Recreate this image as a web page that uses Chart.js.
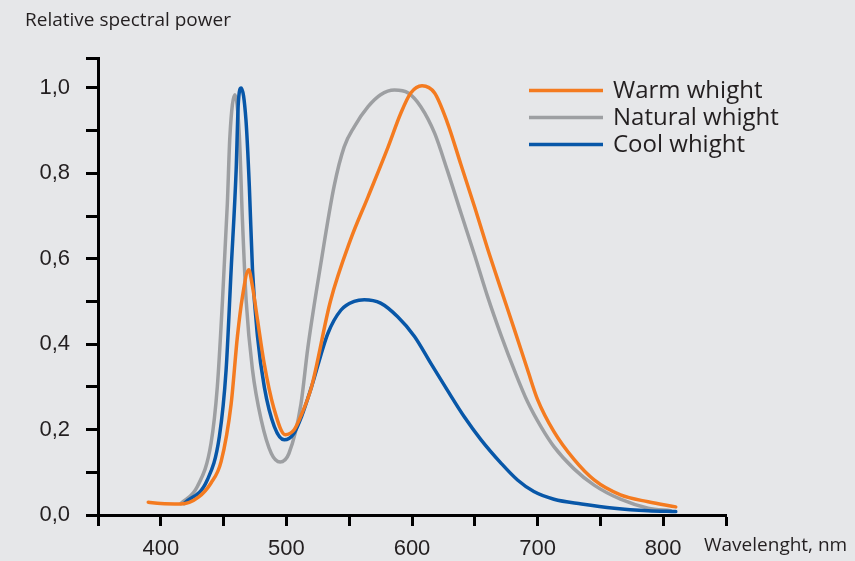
<!DOCTYPE html>
<html>
<head>
<meta charset="utf-8">
<script src="https://cdn.jsdelivr.net/npm/chart.js@4/dist/chart.umd.min.js"></script>
<style>
  html, body { margin: 0; padding: 0; background: #e6e7e9; }
  #wrap { width: 855px; height: 561px; }
</style>
</head>
<body>
<div id="wrap"><canvas id="c" width="855" height="561"></canvas></div>
<script>
// ---- Data ----
const seriesLabels = ['Warm whight', 'Natural whight', 'Cool whight'];
const seriesColors = ['#f47b20', '#9d9fa2', '#0857a8'];

const warmNm    = [390, 400, 416, 430, 440, 448, 456, 461, 465, 470, 473, 477, 482, 490, 499, 506, 512, 520, 535, 551, 565, 581, 591, 599, 608, 618, 628, 639, 650, 660, 671, 682, 692, 700, 713, 729, 745, 766, 788, 810];
const warmPower = [0.030, 0.027, 0.026, 0.042, 0.075, 0.125, 0.26, 0.418, 0.511, 0.574, 0.535, 0.457, 0.36, 0.25, 0.188, 0.199, 0.235, 0.30, 0.50, 0.644, 0.745, 0.862, 0.94, 0.988, 1.005, 0.988, 0.92, 0.82, 0.72, 0.625, 0.527, 0.43, 0.34, 0.27, 0.195, 0.13, 0.082, 0.047, 0.031, 0.019];

const naturalNm    = [416, 429, 440, 445, 449, 453, 455, 459, 462.5, 465, 468, 473, 480, 488, 495, 502, 511.6, 517, 527.5, 538, 546, 554, 565, 575, 586, 597, 607, 618, 628, 639, 650, 660, 671, 682, 692, 703, 713, 729, 745, 766, 788, 806];
const naturalPower = [0.027, 0.066, 0.168, 0.30, 0.496, 0.73, 0.886, 0.984, 0.89, 0.69, 0.50, 0.34, 0.222, 0.144, 0.124, 0.144, 0.26, 0.39, 0.59, 0.77, 0.862, 0.909, 0.956, 0.984, 0.995, 0.988, 0.956, 0.894, 0.808, 0.707, 0.607, 0.513, 0.42, 0.335, 0.265, 0.205, 0.16, 0.108, 0.07, 0.037, 0.016, 0.010];

const coolNm    = [418.5, 437, 446.6, 452, 456, 460, 461.7, 464, 467.8, 470.5, 473, 477, 482.4, 490.4, 498.3, 506, 512, 520, 533, 543.5, 554, 562, 575, 588.6, 602, 615, 628, 641.6, 655, 671, 684, 697, 713, 735, 761, 788, 810];
const coolPower = [0.027, 0.082, 0.183, 0.34, 0.574, 0.808, 0.964, 1.0, 0.925, 0.769, 0.574, 0.418, 0.30, 0.207, 0.176, 0.191, 0.23, 0.30, 0.425, 0.48, 0.50, 0.504, 0.496, 0.464, 0.418, 0.355, 0.293, 0.23, 0.176, 0.121, 0.082, 0.055, 0.037, 0.026, 0.016, 0.010, 0.008];

const xTickValues = [350, 400, 450, 500, 550, 600, 650, 700, 750, 800, 850];
const xTickLabels = ['', '400', '', '500', '', '600', '', '700', '', '800', ''];
const yTickValues = [0, 0.1, 0.2, 0.3, 0.4, 0.5, 0.6, 0.7, 0.8, 0.9, 1.0, 1.07];
const yTickLabels = ['0,0', '', '0,2', '', '0,4', '', '0,6', '', '0,8', '', '1,0', ''];

const yAxisTitle = 'Relative spectral power';
const xAxisTitle = 'Wavelenght, nm';

// ---- Build ----
const nmArrays = [warmNm, naturalNm, coolNm];
const powerArrays = [warmPower, naturalPower, coolPower];
const datasets = seriesLabels.map((label, i) => ({
  label: label,
  data: nmArrays[i].map((x, k) => ({ x: x, y: powerArrays[i][k] })),
  borderColor: seriesColors[i],
  backgroundColor: seriesColors[i],
  borderWidth: 3.5,
  pointRadius: 0,
  fill: false,
  cubicInterpolationMode: 'monotone',
  borderCapStyle: 'round',
  borderJoinStyle: 'round'
}));
datasets[0].order = 1; datasets[1].order = 3; datasets[2].order = 2;

const textColor = '#231f20';

const overlayPlugin = {
  id: 'overlay',
  afterDraw(chart) {
    const ctx = chart.ctx;
    ctx.save();
    ctx.fillStyle = textColor;
    ctx.textAlign = 'left';
    ctx.textBaseline = 'alphabetic';
    ctx.font = '19px "Open Sans"';
    ctx.fillText(yAxisTitle, 25, 26);
    ctx.fillText(xAxisTitle, 704, 551);
    // legend
    ctx.font = '24px "Open Sans"';
    chart.data.datasets.forEach((ds, i) => {
      const y = 90.5 + 27 * i;
      ctx.strokeStyle = ds.borderColor;
      ctx.lineWidth = 3.5;
      ctx.lineCap = 'butt';
      ctx.beginPath();
      ctx.moveTo(529, y);
      ctx.lineTo(603, y);
      ctx.stroke();
      ctx.fillStyle = textColor;
      ctx.fillText(ds.label, 613, y + 7);
    });
    ctx.restore();
  }
};

new Chart(document.getElementById('c'), {
  type: 'line',
  data: { datasets: datasets },
  plugins: [overlayPlugin],
  options: {
    responsive: false,
    animation: false,
    devicePixelRatio: 1,
    layout: { padding: { left: 0, top: 58, right: 129, bottom: 0 } },
    plugins: { legend: { display: false }, tooltip: { enabled: false }, title: { display: false } },
    scales: {
      x: {
        type: 'linear',
        min: 350, max: 850,
        afterBuildTicks: (axis) => { axis.ticks = xTickValues.map(v => ({ value: v })); },
        afterFit: (scale) => { scale.height = 46; },
        border: { display: true, color: '#000', width: 3 },
        grid: { drawOnChartArea: false, drawTicks: true, tickLength: 11, tickWidth: 3, tickColor: '#000' },
        ticks: {
          autoSkip: false, maxRotation: 0, minRotation: 0, padding: 10,
          color: textColor,
          font: { family: '"Liberation Sans", Arial, sans-serif', size: 22 },
          callback: (v, i) => xTickLabels[i]
        }
      },
      y: {
        type: 'linear',
        min: 0, max: 1.07,
        afterBuildTicks: (axis) => { axis.ticks = yTickValues.map(v => ({ value: v })); },
        afterFit: (scale) => { scale.width = 98; },
        border: { display: true, color: '#000', width: 3 },
        grid: { drawOnChartArea: false, drawTicks: true, tickLength: 12, tickWidth: 3, tickColor: '#000' },
        ticks: {
          autoSkip: false, padding: 16,
          color: textColor,
          font: { family: '"Liberation Sans", Arial, sans-serif', size: 22 },
          callback: (v, i) => yTickLabels[i]
        }
      }
    }
  }
});
</script>
</body>
</html>
